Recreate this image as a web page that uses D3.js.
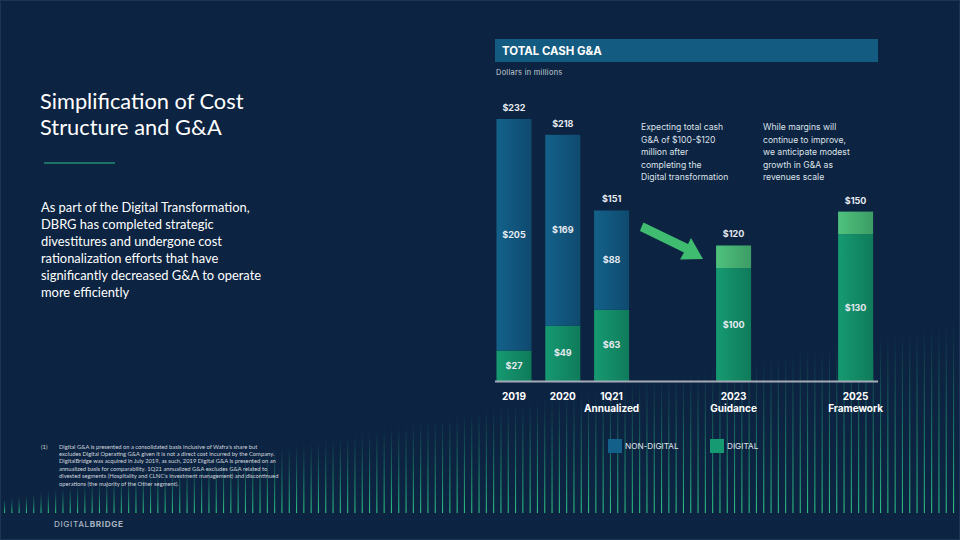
<!DOCTYPE html>
<html>
<head>
<meta charset="utf-8">
<script src="https://cdn.jsdelivr.net/npm/d3@7"></script>
<style>
  html, body { margin: 0; padding: 0; background: #0c2341; }
  svg { display: block; }
</style>
</head>
<body>
<svg id="chart" width="960" height="540"></svg>
<script>
// ---- Data ----
const categories = ["2019", "2020", "1Q21", "2023", "2025"];
const subLabels = ["", "", "Annualized", "Guidance", "Framework"];
const digital = [27, 49, 63, 100, 130];
const nonDigital = [205, 169, 88, 0, 0];
const upsideRange = [0, 0, 0, 20, 20];
const totals = [232, 218, 151, 120, 150];
const legendLabels = ["NON-DIGITAL", "DIGITAL"];

const svg = d3.select("#chart");
const defs = svg.append("defs");

function hGrad(id, c1, c2) {
  const g = defs.append("linearGradient").attr("id", id)
    .attr("x1", "0%").attr("x2", "100%").attr("y1", "0%").attr("y2", "0%");
  g.append("stop").attr("offset", "0%").attr("stop-color", c1);
  g.append("stop").attr("offset", "100%").attr("stop-color", c2);
}
hGrad("gNon", "#13618a", "#0f4a6f");
hGrad("gDig", "#169a71", "#0f7b5a");
hGrad("gUp", "#4fc27d", "#3c9c65");

const vg = defs.append("linearGradient").attr("id", "gDeco")
  .attr("x1", "0").attr("x2", "0").attr("y1", "0").attr("y2", "1");
vg.append("stop").attr("offset", "0%").attr("stop-color", "#1fa877").attr("stop-opacity", 0);
vg.append("stop").attr("offset", "100%").attr("stop-color", "#2fd08a").attr("stop-opacity", 0.9);

// background
svg.append("rect").attr("width", 960).attr("height", 540).attr("fill", "#0c2341");

// decorative vertical lines at bottom
const deco = svg.append("g");
for (let x = 4; x < 960; x += 7.3) {
  const top = 500 - x * 0.19;
  deco.append("rect").attr("x", x).attr("y", top).attr("width", 1.1)
    .attr("height", 513 - top).attr("fill", "url(#gDeco)");
}

// ---- Left text ----
const left = svg.append("g").attr("font-family", "Lato, 'Open Sans', sans-serif").attr("fill", "#ffffff");
left.append("text").attr("x", 40).attr("y", 109).attr("font-size", 21.8).text("Simplification of Cost");
left.append("text").attr("x", 40).attr("y", 135).attr("font-size", 21.8).text("Structure and G&A");
svg.append("line").attr("x1", 44).attr("x2", 115).attr("y1", 163).attr("y2", 163)
  .attr("stroke", "#2fbf8a").attr("stroke-width", 1);
const body = ["As part of the Digital Transformation,", "DBRG has completed strategic",
  "divestitures and undergone cost", "rationalization efforts that have",
  "significantly decreased G&A to operate", "more efficiently"];
body.forEach((t, i) => left.append("text").attr("x", 41).attr("y", 211.5 + i * 17)
  .attr("font-size", 12.9).text(t));

const foot = ["Digital G&A is presented on a consolidated basis inclusive of Wafra's share but",
  "excludes Digital Operating G&A given it is not a direct cost incurred by the Company.",
  "DigitalBridge was acquired in July 2019, as such, 2019 Digital G&A is presented on an",
  "annualized basis for comparability. 1Q21 annualized G&A excludes G&A related to",
  "divested segments (Hospitality and CLNC's investment management) and discontinued",
  "operations (the majority of the Other segment)."];
const fg = svg.append("g").attr("font-family", "Lato, sans-serif").attr("font-size", 5.8).attr("fill", "#d0d6de");
fg.append("text").attr("x", 41).attr("y", 448.5).text("(1)");
foot.forEach((t, i) => fg.append("text").attr("x", 59).attr("y", 448.5 + i * 7.45).text(t));

const logo = svg.append("text").attr("x", 54).attr("y", 527).attr("font-family", "Inter, 'Noto Sans', sans-serif")
  .attr("font-size", 8.2).attr("letter-spacing", 0.6).attr("fill", "#aab3c0");
logo.append("tspan").attr("font-weight", 500).text("DIGITAL");
logo.append("tspan").attr("font-weight", 700).text("BRIDGE");

// ---- Chart header ----
svg.append("rect").attr("x", 495).attr("y", 39).attr("width", 383).attr("height", 23).attr("fill", "#135b80");
svg.append("text").attr("x", 502).attr("y", 55).attr("font-family", "Inter, sans-serif")
  .attr("font-weight", 700).attr("font-size", 11.4).attr("fill", "#ffffff").text("TOTAL CASH G&A");
svg.append("text").attr("x", 496).attr("y", 74.5).attr("font-family", "Inter, sans-serif")
  .attr("font-size", 7.4).attr("letter-spacing", 0.3).attr("fill", "#c8cfd8").text("Dollars in millions");

// ---- Scales ----
const slots = ["2019", "_a", "2020", "_b", "1Q21", "_c", "_d", "_e", "_f", "2023", "_g", "_h", "_i", "_j", "2025"];
const x = d3.scalePoint().domain(slots).range([514, 855.6]);
const y = d3.scaleLinear().domain([0, 232]).range([381, 119]);
const bw = 35;

const rows = categories.map((c, i) => ({
  c, sub: subLabels[i], dig: digital[i], non: nonDigital[i], up: upsideRange[i], tot: totals[i]
}));

const chart = svg.append("g").attr("font-family", "Inter, sans-serif");

// digital segments
chart.selectAll("rect.dig").data(rows).join("rect").attr("class", "dig")
  .attr("x", d => x(d.c) - bw / 2).attr("width", bw)
  .attr("y", d => y(d.dig)).attr("height", d => y(0) - y(d.dig))
  .attr("fill", "url(#gDig)");
// non-digital
chart.selectAll("rect.non").data(rows.filter(d => d.non > 0)).join("rect").attr("class", "non")
  .attr("x", d => x(d.c) - bw / 2).attr("width", bw)
  .attr("y", d => y(d.dig + d.non)).attr("height", d => y(d.dig) - y(d.dig + d.non))
  .attr("fill", "url(#gNon)");
// upside range
chart.selectAll("rect.up").data(rows.filter(d => d.up > 0)).join("rect").attr("class", "up")
  .attr("x", d => x(d.c) - bw / 2).attr("width", bw)
  .attr("y", d => y(d.dig + d.up)).attr("height", d => y(d.dig) - y(d.dig + d.up))
  .attr("fill", "url(#gUp)");

// baseline
chart.append("line").attr("x1", 495).attr("x2", 878).attr("y1", y(0) + 0.5).attr("y2", y(0) + 0.5)
  .attr("stroke", "#a3abb8").attr("stroke-width", 2);

const lblColor = "#e6eaf0";
// totals
chart.selectAll("text.tot").data(rows).join("text").attr("class", "tot")
  .attr("x", d => x(d.c)).attr("y", d => y(d.tot) - 8)
  .attr("text-anchor", "middle").attr("font-size", 9).attr("font-weight", 700).attr("fill", lblColor)
  .text(d => "$" + d.tot);
// inside labels
chart.selectAll("text.nonl").data(rows.filter(d => d.non > 0)).join("text").attr("class", "nonl")
  .attr("x", d => x(d.c)).attr("y", d => (y(d.dig) + y(d.dig + d.non)) / 2 + 3)
  .attr("text-anchor", "middle").attr("font-size", 9).attr("font-weight", 700).attr("fill", lblColor)
  .text(d => "$" + d.non);
chart.selectAll("text.digl").data(rows).join("text").attr("class", "digl")
  .attr("x", d => x(d.c)).attr("y", d => (y(0) + y(d.dig)) / 2 + 3)
  .attr("text-anchor", "middle").attr("font-size", 9).attr("font-weight", 700).attr("fill", lblColor)
  .text(d => "$" + d.dig);

// x labels
chart.selectAll("text.xl").data(rows).join("text").attr("class", "xl")
  .attr("x", d => x(d.c)).attr("y", 399.5)
  .attr("text-anchor", "middle").attr("font-size", 10).attr("font-weight", 700).attr("fill", "#ffffff")
  .text(d => d.c);
chart.selectAll("text.xs").data(rows.filter(d => d.sub)).join("text").attr("class", "xs")
  .attr("x", d => x(d.c)).attr("y", 411.5)
  .attr("text-anchor", "middle").attr("font-size", 10).attr("font-weight", 700).attr("fill", "#ffffff")
  .text(d => d.sub);

// annotations
const ann1 = ["Expecting total cash", "G&A of $100-$120", "million after", "completing the", "Digital transformation"];
const ann2 = ["While margins will", "continue to improve,", "we anticipate modest", "growth in G&A as", "revenues scale"];
ann1.forEach((t, i) => chart.append("text").attr("x", 641).attr("y", 130 + i * 12.5)
  .attr("font-size", 8.6).attr("fill", "#dde2e9").text(t));
ann2.forEach((t, i) => chart.append("text").attr("x", 763).attr("y", 130 + i * 12.5)
  .attr("font-size", 8.6).attr("fill", "#dde2e9").text(t));

// arrow
chart.append("path")
  .attr("d", "M641,228 L643.5,222.5 L688,244 L691,238 L703,259 L680,259.5 L684,252.5 L640,231 Z")
  .attr("fill", "#3fbc70");

// legend
const lg = chart.append("g").attr("font-size", 8.2).attr("fill", "#e0e5ec");
const legendFills = ["#13618a", "#169a71"];
const legendX = [608, 710];
legendLabels.forEach((t, i) => {
  lg.append("rect").attr("x", legendX[i]).attr("y", 439).attr("width", 14).attr("height", 14)
    .attr("fill", legendFills[i]);
  lg.append("text").attr("x", legendX[i] + 17).attr("y", 449).attr("fill", "#e0e5ec").text(t);
});

// slide border
svg.append("rect").attr("x", 0.5).attr("y", 0.5).attr("width", 959).attr("height", 539)
  .attr("fill", "none").attr("stroke", "#1c3556").attr("stroke-width", 1);
</script>
</body>
</html>
